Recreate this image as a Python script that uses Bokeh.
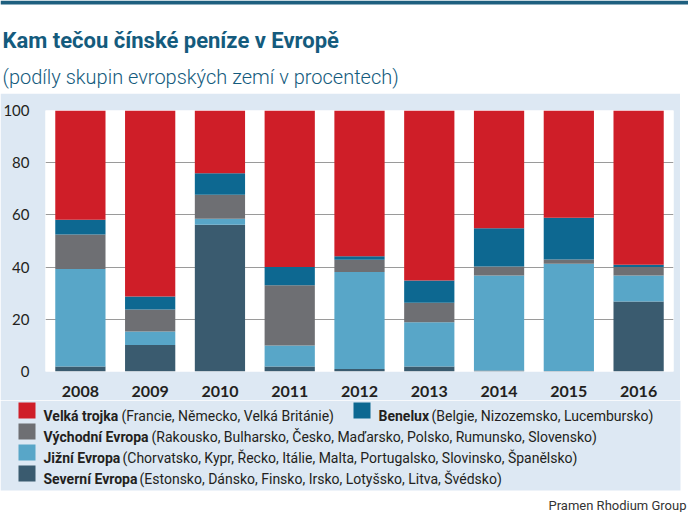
from bokeh.plotting import figure
from bokeh.models import ColumnDataSource, FactorRange, Range1d, FixedTicker
from bokeh.layouts import column
from bokeh.core.properties import value
from bokeh.embed import file_html
from bokeh.resources import INLINE

# ---------------- data ----------------
years = ["2008", "2009", "2010", "2011", "2012", "2013", "2014", "2015", "2016"]
severni = [1.9, 10.2, 56.2, 1.9, 1.0, 1.9, 0.4, 0.2, 26.8]
jizni = [37.4, 5.1, 2.3, 8.1, 37.1, 17.0, 36.4, 41.1, 10.0]
vychodni = [13.2, 8.5, 9.2, 23.0, 4.7, 7.4, 3.4, 1.6, 3.2]
benelux = [5.6, 4.9, 8.3, 7.0, 1.4, 8.6, 14.7, 16.0, 0.9]
velka = [41.9, 71.3, 24.0, 60.0, 55.8, 65.1, 45.1, 41.1, 59.1]
y_ticks = [0, 20, 40, 60, 80, 100]

series_keys = ["severni", "jizni", "vychodni", "benelux", "velka"]
colors = ["#3a5b6f", "#58a6c8", "#6e6f73", "#0d6891", "#cf1e28"]

title_text = "Kam tečou čínské peníze v Evropě"
subtitle_text = "(podíly skupin evropských zemí v procentech)"
legend_names = ["Velká trojka", "Benelux", "Východní Evropa", "Jižní Evropa", "Severní Evropa"]
legend_details = ["(Francie, Německo, Velká Británie)",
                  "(Belgie, Nizozemsko, Lucembursko)",
                  "(Rakousko, Bulharsko, Česko, Maďarsko, Polsko, Rumunsko, Slovensko)",
                  "(Chorvatsko, Kypr, Řecko, Itálie, Malta, Portugalsko, Slovinsko, Španělsko)",
                  "(Estonsko, Dánsko, Finsko, Irsko, Lotyšsko, Litva, Švédsko)"]
legend_colors = ["#cf1e28", "#0d6891", "#6e6f73", "#58a6c8", "#3a5b6f"]
source_text = "Pramen Rhodium Group"

FONT = "Roboto"
FONT_LIGHT = "'Roboto Light', Roboto"
PANEL = "#dde8f3"
TITLE_COL = "#145b7d"
TEXT_COL = "#231f20"
W_FULL = 688
W_PANEL = 680


def no_align(f):
    try:
        f.frame_align = False
    except Exception:
        pass


def blank(w, h, bg):
    f = figure(width=w, height=h, x_range=Range1d(0, w), y_range=Range1d(h, 0),
               x_axis_type=None, y_axis_type=None, output_backend="svg", toolbar_location=None,
               min_border=0, min_border_left=0, min_border_right=0, min_border_top=0, min_border_bottom=0)
    f.background_fill_color = bg
    f.border_fill_color = bg
    f.outline_line_color = None
    f.grid.visible = False
    no_align(f)
    return f


def txt(f, x, y, s, size, color, bold=False, align="left", font=FONT):
    f.text(x=[x], y=[y], text=[s], text_font=value(font), text_font_size=value(size),
           text_font_style="bold" if bold else "normal", text_color=color,
           text_align=align, text_baseline="alphabetic")


# ---------------- header ----------------
TOP_H = 93
top = blank(W_FULL, TOP_H, "white")
top.quad(left=[0], right=[W_FULL], top=[0], bottom=[4], color="#1e5f7f", line_color=None)
txt(top, 2, 40, title_text, "22px", TITLE_COL, bold=True)
txt(top, 2, 76, subtitle_text, "20px", TITLE_COL, font=FONT_LIGHT)

# ---------------- chart ----------------
MID_H = 307
src = ColumnDataSource(dict(years=years, severni=severni, jizni=jizni,
                            vychodni=vychodni, benelux=benelux, velka=velka))
p = figure(x_range=FactorRange(*years, range_padding=0), y_range=Range1d(0, 100),
           width=W_PANEL, height=MID_H, output_backend="svg", toolbar_location=None,
           min_border_left=43, min_border_top=17, min_border_right=7, min_border_bottom=29)
p.border_fill_color = PANEL
p.background_fill_color = "white"
p.outline_line_color = None
no_align(p)

p.vbar_stack(series_keys, x="years", width=0.72, color=colors, line_color=None, source=src)

p.yaxis.ticker = FixedTicker(ticks=y_ticks)
p.yaxis.axis_line_color = None
p.yaxis.major_tick_line_color = None
p.yaxis.minor_tick_line_color = None
p.yaxis.major_label_text_font = "Lato"
p.yaxis.major_label_text_font_size = "15px"
p.yaxis.major_label_text_color = TEXT_COL
p.yaxis.major_label_standoff = 10

p.xaxis.axis_line_color = None
p.xaxis.major_tick_line_color = None
p.xaxis.major_label_text_font = "Lato"
p.xaxis.major_label_text_font_style = "bold"
p.xaxis.major_label_text_font_size = "16px"
p.xaxis.major_label_text_color = TEXT_COL
p.xaxis.major_label_standoff = 8

p.xgrid.grid_line_color = None
p.ygrid.ticker = FixedTicker(ticks=y_ticks)
p.ygrid.grid_line_color = "#9a9a9a"
p.ygrid.grid_line_width = 1

# ---------------- legend + source ----------------
BOT_H = 112
bot = blank(W_FULL, BOT_H, "white")
bot.quad(left=[0], right=[W_PANEL], top=[0], bottom=[90], color=PANEL, line_color=None)

row_base = [15, 36, 57, 78]
entries = [  # (index, row, swatch_x, text_x, detail_x)
    (0, 0, 18, 43, 121),
    (1, 0, 353, 378, 431),
    (2, 1, 18, 43, 151),
    (3, 2, 18, 43, 122),
    (4, 3, 18, 43, 139),
]
for idx, row, swx, tx, dx in entries:
    b = row_base[row]
    c = b - 5
    bot.quad(left=[swx], right=[swx + 17], top=[c - 8], bottom=[c + 8],
             color=legend_colors[idx], line_color=None)
    txt(bot, tx, b, legend_names[idx], "14px", TEXT_COL, bold=True)
    txt(bot, dx, b, legend_details[idx], "14px", TEXT_COL)

txt(bot, 686, 105, source_text, "13px", "#333333", align="right")

layout = column(top, p, bot, spacing=0)
open("out.html", "w").write(file_html(layout, INLINE))
